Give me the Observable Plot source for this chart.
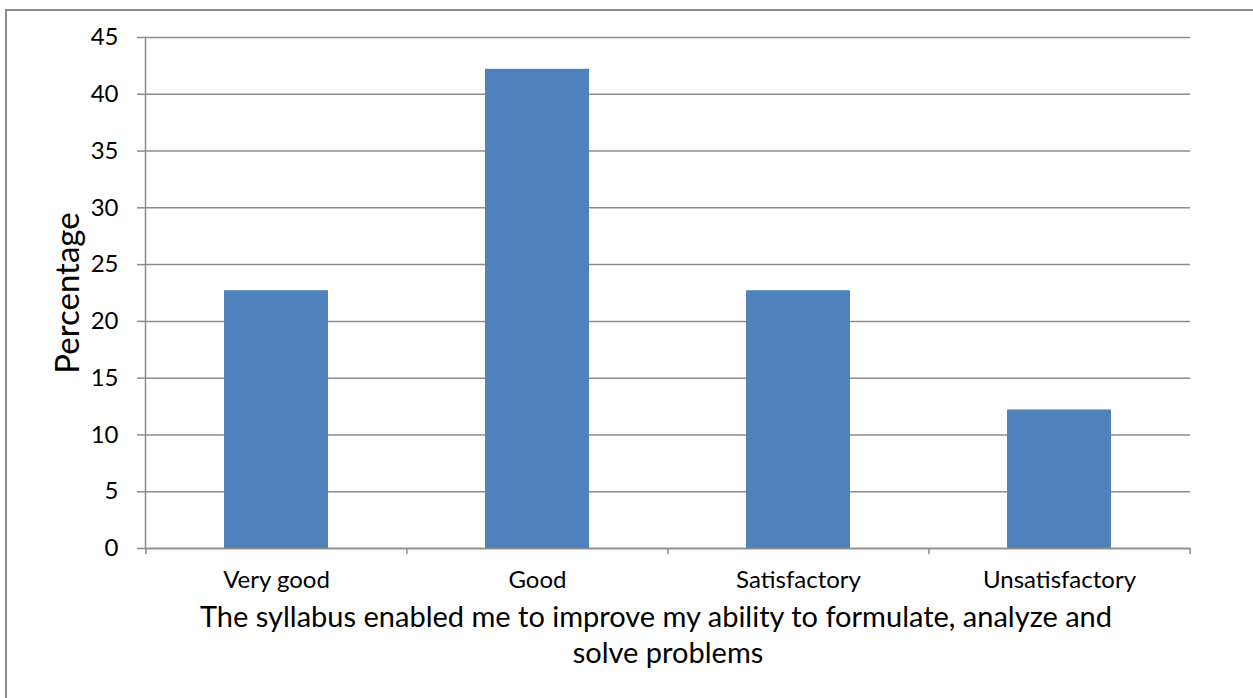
<!DOCTYPE html>
<html>
<head>
<meta charset="utf-8">
<script src="https://cdn.jsdelivr.net/npm/d3@7"></script>
<script src="https://cdn.jsdelivr.net/npm/@observablehq/plot@0.6"></script>
<style>
  html, body { margin: 0; padding: 0; background: #fff; }
  #wrap { position: relative; width: 1253px; height: 698px; overflow: hidden; }
  #border { position: absolute; left: 5px; top: 9px; width: 1260px; height: 700px; border-left: 2px solid #8c8c8c; border-top: 2px solid #8c8c8c; box-sizing: border-box; }
  #chart { position: absolute; left: 0; top: 0; }
</style>
</head>
<body>
<div id="wrap"><div id="border"></div><div id="chart"></div></div>
<script>
const categories = ["Very good", "Good", "Satisfactory", "Unsatisfactory"];
const percentages = [22.7, 42.2, 22.7, 12.2];
const yTicks = [0, 5, 10, 15, 20, 25, 30, 35, 40, 45];
const yLabel = "Percentage";
const xTitleLines = ["The syllabus enabled me to improve my ability to formulate, analyze and", "solve problems"];

const data = categories.map((c, i) => ({category: c, value: percentages[i]}));

const W = 1253, H = 698;
const mL = 145, mR = 63, mT = 37, mB = 150;
const step = (W - mL - mR) / categories.length;
const font = "Lato, 'Open Sans', sans-serif";
const gray = "#8c8c8c";

const plot = Plot.plot({
  width: W,
  height: H,
  marginLeft: mL,
  marginRight: mR,
  marginTop: mT,
  marginBottom: mB,
  style: {fontFamily: font, fontSize: "24px", color: "#000", background: "transparent"},
  x: {domain: categories, paddingInner: 0.6, paddingOuter: 0.3, label: null},
  y: {domain: [0, 45], label: null},
  marks: [
    Plot.gridY(yTicks, {stroke: gray, strokeOpacity: 1, strokeWidth: 1.5}),
    Plot.barY(data, {x: "category", y: "value", fill: "#4f81bd"}),
    Plot.axisY(yTicks, {tickSize: 8, tickPadding: 19, stroke: gray, strokeWidth: 1.5, fill: "#000", fontSize: 24, label: null}),
    Plot.axisX({tickSize: 0, tickPadding: 22, fill: "#000", fontSize: 24, label: null}),
    Plot.ruleY([0], {stroke: gray, strokeWidth: 1.5}),
    Plot.frame({anchor: "left", stroke: gray, strokeWidth: 1.5}),
    Plot.ruleX(data, {x: "category", dx: -step / 2, y1: 0, y2: 0, insetBottom: -6, stroke: gray, strokeWidth: 1.5}),
    Plot.ruleX([categories[categories.length - 1]], {dx: step / 2, y1: 0, y2: 0, insetBottom: -6, stroke: gray, strokeWidth: 1.5}),
    Plot.text([xTitleLines[0]], {frameAnchor: "bottom", dy: 78, dx: -12, fontSize: 29, fill: "#000"}),
    Plot.text([xTitleLines[1]], {frameAnchor: "bottom", dy: 114, fontSize: 29, fill: "#000"}),
    Plot.text([yLabel], {frameAnchor: "left", dx: -77, rotate: -90, textAnchor: "middle", fontSize: 33, fill: "#000"})
  ]
});
document.getElementById("chart").appendChild(plot);
</script>
</body>
</html>
